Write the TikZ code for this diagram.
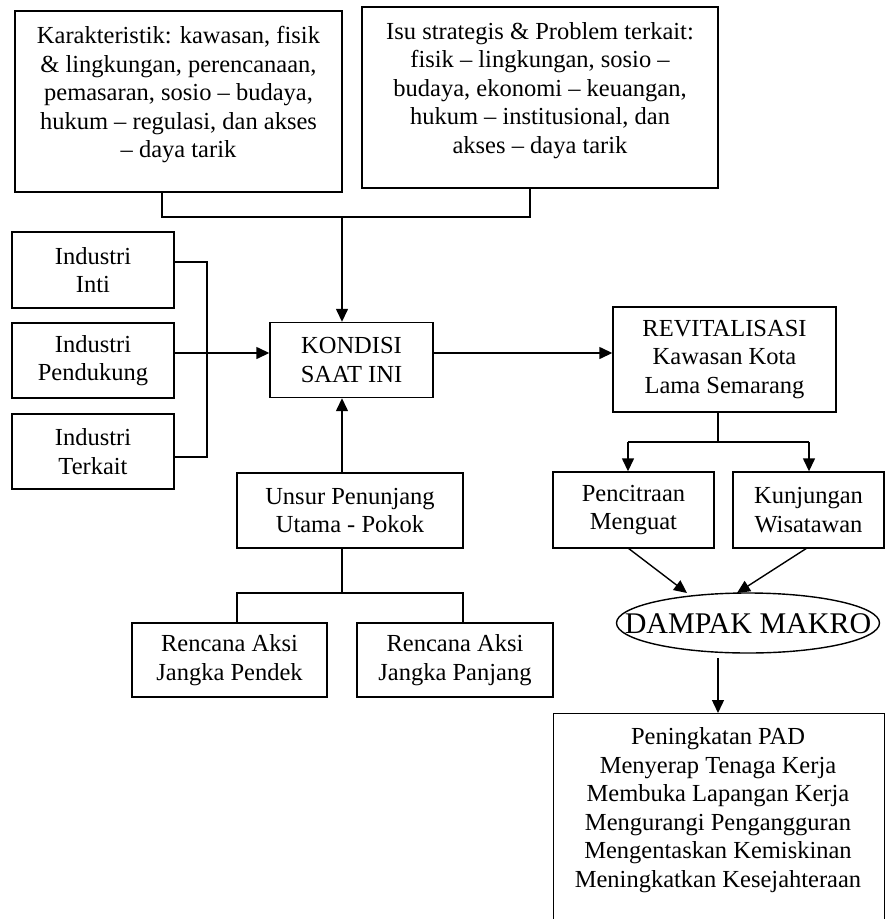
\documentclass[tikz,border=0pt]{standalone}
\usepackage{fontspec}
\setmainfont{Liberation Serif}
\usetikzlibrary{arrows.meta,shapes.geometric}
\begin{document}
\begin{tikzpicture}[x=1pt,y=-1pt,
  box/.style={draw, line width=1.4pt, inner sep=0pt},
  txt/.style={align=center, inner sep=0pt, font=\fontsize{24.5}{28.5}\selectfont},
  ln/.style={line width=1.4pt},
  arr/.style={line width=1.4pt, -{Triangle[length=13pt,width=12pt]}},
]
\useasboundingbox (0,0) rectangle (885,919);
\clip (0,0) rectangle (885,919);

% top boxes
\node[box, minimum width=327pt, minimum height=181pt] (kar) at (178.5,101.5) {};
\node[txt] (kart) at (178.5,95) {Karakteristik: kawasan, fisik\\ \& lingkungan, perencanaan,\\ pemasaran, sosio – budaya,\\ hukum – regulasi, dan akses\\ – daya tarik};
\node[box, minimum width=356pt, minimum height=181pt] (isu) at (540,97.5) {};
\node[txt] (isut) at (540,90.5) {Isu strategis \& Problem terkait:\\ fisik – lingkungan, sosio –\\ budaya, ekonomi – keuangan,\\ hukum – institusional, dan\\ akses – daya tarik};

% industri
\node[box, txt, minimum width=162pt, minimum height=76pt] (inti) at (93,270) {Industri\\Inti};
\node[box, txt, minimum width=162pt, minimum height=75pt] (pend) at (93,360.5) {Industri\\Pendukung};
\node[box, txt, minimum width=162pt, minimum height=75pt] (terk) at (93,451.5) {Industri\\Terkait};

% center
\node[box, txt, minimum width=163pt, minimum height=75pt] (kond) at (351.5,360) {KONDISI\\SAAT INI};
\node[box, txt, minimum width=223pt, minimum height=105pt] (rev) at (724.5,359.5) {REVITALISASI\\Kawasan Kota\\Lama Semarang};
\node[box, txt, minimum width=226pt, minimum height=75pt] (uns) at (350,510.5) {Unsur Penunjang\\Utama - Pokok};
\node[box, txt, minimum width=195pt, minimum height=74pt] (pdk) at (229.5,660) {Rencana Aksi\\Jangka Pendek};
\node[box, txt, minimum width=196pt, minimum height=74pt] (pjg) at (455,660) {Rencana Aksi\\Jangka Panjang};

% right side
\node[box, txt, minimum width=161pt, minimum height=76pt] (pen) at (633.5,510) {Pencitraan\\Menguat};
\node[box, txt, minimum width=151pt, minimum height=76pt] (kun) at (808.5,510) {Kunjungan\\Wisatawan};
\node[draw, ellipse, line width=1.4pt, inner sep=0pt, minimum width=263pt, minimum height=60pt] (dmp) at (748,623) {};
\node[inner sep=0pt, font=\fontsize{30}{34}\selectfont] (dmpt) at (748,624) {DAMPAK MAKRO};
\node[box, minimum width=331pt, minimum height=240pt, anchor=north west] (hasil) at (553,713) {};
\node[txt] (hasilt) at (718,810) {Peningkatan PAD\\Menyerap Tenaga Kerja\\Membuka Lapangan Kerja\\Mengurangi Pengangguran\\Mengentaskan Kemiskinan\\Meningkatkan Kesejahteraan};

% connectors top
\coordinate (c1) at (162,217);
\coordinate (c2) at (530,217);
\coordinate (jt) at (342,217);
\draw[ln] (c1 |- kar.south) -- (c1) -- (c2) -- (c2 |- isu.south);
\draw[arr] (jt) -- (jt |- kond.north);

% industri bracket
\coordinate (b1) at (207,262);
\coordinate (b2) at (207,457);
\coordinate (pa) at (207,353);
\draw[ln] (b1 -| inti.east) -- (b1) -- (b2) -- (b2 -| terk.east);
\draw[arr] (pa -| pend.east) -- (pa -| kond.west);

% kondisi -> revitalisasi
\coordinate (ka) at (433,353);
\draw[arr] (ka -| kond.east) -- (ka -| rev.west);

% unsur
\draw[arr] (jt |- uns.north) -- (jt |- kond.south);
\coordinate (r0) at (342,593);
\coordinate (rl) at (237,593);
\coordinate (rr) at (463,593);
\draw[ln] (r0 |- uns.south) -- (r0);
\draw[ln] (rl |- pdk.north) -- (rl) -- (rr) -- (rr |- pjg.north);

% revitalisasi branch
\coordinate (v0) at (718,442);
\coordinate (vl) at (628,442);
\coordinate (vr) at (809,442);
\draw[ln] (v0 |- rev.south) -- (v0);
\draw[ln] (vl) -- (vr);
\draw[arr] (vl) -- (vl |- pen.north);
\draw[arr] (vr) -- (vr |- kun.north);

% to dampak
\coordinate (d1) at (628,548);
\coordinate (d2) at (807,548);
\coordinate (e1) at (687,593);
\coordinate (e2) at (737,593);
\draw[arr] (d1) -- (e1);
\draw[arr] (d2) -- (e2);

% dampak -> hasil
\coordinate (g) at (718,658);
\draw[arr] (g) -- (g |- hasil.north);
\end{tikzpicture}
\end{document}
